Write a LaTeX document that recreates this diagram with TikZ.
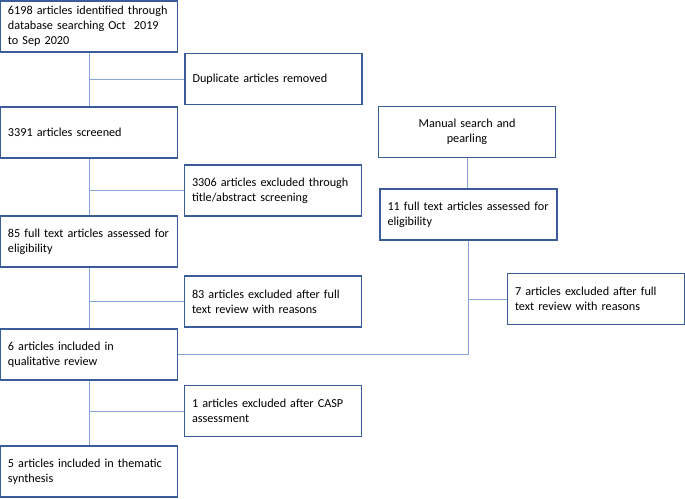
\documentclass[tikz,border=0pt]{standalone}
\usepackage{fontspec}
\setmainfont{Carlito}
\definecolor{boxblue}{HTML}{3A5C99}
\definecolor{linkblue}{HTML}{86A4DA}
\begin{document}
\begin{tikzpicture}[x=1pt,y=-1pt,
  flowbox/.style={draw=boxblue,line width=1.3pt,fill=white,minimum width=#1,
    text width=#1-15pt,inner xsep=7.5pt,inner ysep=0pt,minimum height=51pt,
    align=left,font=\fontsize{12.2}{15}\selectfont},
  flowbox/.default=177pt,
  link/.style={draw=linkblue,line width=1pt}]
\useasboundingbox (0,0) rectangle (685,498);
% left column
\node[flowbox] (b1) at (89,26.5) {6198 articles identified through\\ database searching Oct\ \ 2019\\ to Sep 2020};
\node[flowbox] (dup) at (273.5,79) {Duplicate articles removed};
\node[flowbox] (b2) at (89,132.5) {3391 articles screened};
\node[flowbox] (ex1) at (273,190.5) {3306 articles excluded through\\ title/abstract screening};
\node[flowbox] (b3) at (89,241.5) {85 full text articles assessed for\\ eligibility};
\node[flowbox] (ex2) at (273,301.5) {83 articles excluded after full\\ text review with reasons};
\node[flowbox] (b4) at (89,354.5) {6 articles included in\\ qualitative review};
\node[flowbox] (ex3) at (273,411) {1 articles excluded after CASP\\ assessment};
\node[flowbox] (b5) at (89,471.5) {5 articles included in thematic\\ synthesis};
% right column
\node[flowbox,align=center] (man) at (467,132) {Manual search and\\ pearling};
\node[flowbox] (r1) at (468.5,214.5) {11 full text articles assessed for\\ eligibility};
\node[flowbox] (ex4) at (596,299) {7 articles excluded after full\\ text review with reasons};
% connectors
\path[link] (b1.south) -- (b2.north);
\path[link] (b1.south |- dup.west) -- (dup.west);
\path[link] (b2.south) -- (b3.north);
\path[link] (b2.south |- ex1.west) -- (ex1.west);
\path[link] (b3.south) -- (b4.north);
\path[link] (b3.south |- ex2.west) -- (ex2.west);
\path[link] (b4.south) -- (b5.north);
\path[link] (b4.south |- ex3.west) -- (ex3.west);
\path[link] (man.south) -- (man.south |- r1.north);
\coordinate (corner) at (r1.south |- b4.east);
\path[link] (r1.south) -- (corner) -- (b4.east);
\path[link] (r1.south |- ex4.west) -- (ex4.west);
\end{tikzpicture}
\end{document}
